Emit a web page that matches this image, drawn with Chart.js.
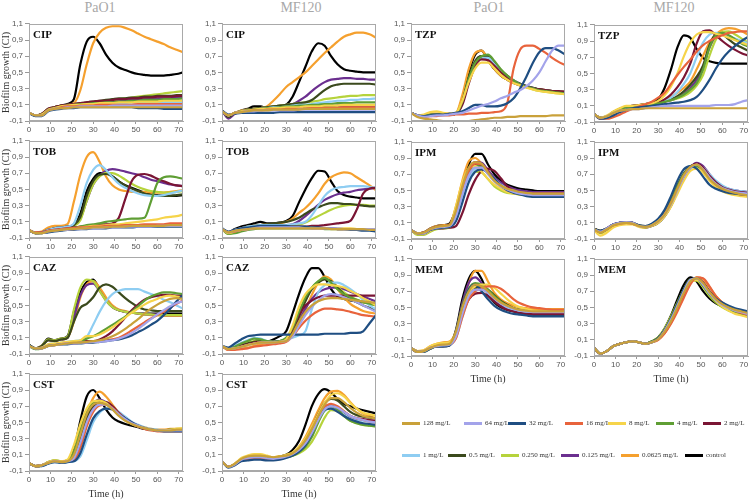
<!DOCTYPE html>
<html>
<head>
<meta charset="utf-8">
<script src="https://cdn.jsdelivr.net/npm/chart.js@4.4.0/dist/chart.umd.min.js"></script>
<style>
  body { margin: 0; background: #fff; width: 750px; height: 501px; position: relative; overflow: hidden; font-family: "Liberation Serif", serif; }
  canvas { position: absolute; }
  .col-title { position: absolute; top: 0; font-size: 14px; line-height: 15px; color: #a8a8a8; transform: translateX(-50%); white-space: nowrap; }
  .legend-item { position: absolute; display: flex; align-items: center; gap: 3px; font-size: 7px; line-height: 8px; color: #333; white-space: nowrap; }
  .legend-line { width: 18px; height: 3px; }
</style>
</head>
<body>
<div class="col-title" style="left:100px">PaO1</div>
<div class="col-title" style="left:301px">MF120</div>
<div class="col-title" style="left:489px">PaO1</div>
<div class="col-title" style="left:674px">MF120</div>

<script>
// sampling times (h)
const hours = [0,3,6,9,12,15,18,21,24,27,30,33,36,39,42,45,48,51,54,57,60,63,66,69,72];
const concentrations = ['128 mg/L','64 mg/L','32 mg/L','16 mg/L','8 mg/L','4 mg/L','2 mg/L','1 mg/L','0.5 mg/L','0.250 mg/L','0.125 mg/L','0.0625 mg/L','control'];
const lineColors = ['#c9a13a','#a3a3ea','#1f4e82','#e8633c','#f6d44a','#5f9e34','#7a1534','#8ecdf2','#3b4a1d','#b6d33c','#6b2f8f','#f5a02e','#000000'];
const yTicks = [-0.1,0.1,0.3,0.5,0.7,0.9,1.1];
const xTicks = [0,10,20,30,40,50,60,70];

// each panel: one row per concentration, same order as the legend
const pao1CIP = [
  [0,-0.03,-0.03,0.03,0.05,0.06,0.06,0.07,0.07,0.07,0.07,0.07,0.07,0.07,0.07,0.07,0.07,0.07,0.07,0.07,0.07,0.07,0.07,0.07,0.07],
  [0,-0.03,-0.03,0.03,0.05,0.06,0.07,0.07,0.08,0.08,0.08,0.08,0.08,0.09,0.09,0.09,0.09,0.09,0.09,0.09,0.09,0.09,0.09,0.09,0.09],
  [0,-0.04,-0.04,0.02,0.04,0.05,0.06,0.06,0.07,0.07,0.07,0.07,0.07,0.07,0.07,0.07,0.07,0.06,0.06,0.06,0.06,0.05,0.05,0.05,0.05],
  [0,-0.03,-0.03,0.03,0.05,0.07,0.08,0.08,0.09,0.09,0.09,0.1,0.1,0.1,0.1,0.1,0.1,0.11,0.11,0.11,0.11,0.11,0.11,0.11,0.11],
  [0,-0.03,-0.02,0.04,0.06,0.08,0.09,0.1,0.1,0.11,0.11,0.12,0.12,0.12,0.13,0.13,0.13,0.14,0.14,0.14,0.14,0.15,0.15,0.15,0.15],
  [0,-0.03,-0.02,0.04,0.06,0.08,0.09,0.1,0.11,0.11,0.12,0.12,0.13,0.13,0.14,0.14,0.15,0.15,0.16,0.16,0.16,0.17,0.17,0.17,0.18],
  [0,-0.03,-0.01,0.05,0.07,0.09,0.1,0.11,0.12,0.13,0.14,0.15,0.15,0.16,0.17,0.17,0.18,0.18,0.19,0.19,0.2,0.2,0.2,0.21,0.21],
  [0,-0.03,-0.02,0.04,0.06,0.08,0.09,0.1,0.1,0.11,0.11,0.11,0.12,0.12,0.12,0.12,0.13,0.13,0.13,0.13,0.13,0.13,0.13,0.13,0.13],
  [0,-0.03,-0.01,0.05,0.07,0.09,0.1,0.11,0.12,0.13,0.14,0.15,0.16,0.17,0.18,0.18,0.19,0.19,0.2,0.2,0.21,0.21,0.21,0.22,0.22],
  [0,-0.03,-0.02,0.04,0.06,0.08,0.09,0.1,0.11,0.12,0.13,0.14,0.15,0.16,0.17,0.18,0.19,0.2,0.21,0.22,0.23,0.24,0.25,0.26,0.27],
  [0,-0.03,-0.02,0.04,0.06,0.08,0.09,0.1,0.11,0.12,0.12,0.13,0.14,0.14,0.15,0.15,0.16,0.16,0.17,0.17,0.18,0.18,0.18,0.19,0.19],
  [0,-0.03,-0.02,0.04,0.07,0.09,0.1,0.12,0.28,0.6,0.86,0.99,1.05,1.07,1.07,1.05,1.02,0.98,0.94,0.91,0.88,0.85,0.81,0.78,0.75],
  [0,-0.03,-0.02,0.04,0.07,0.09,0.11,0.17,0.6,0.88,0.94,0.86,0.72,0.62,0.56,0.53,0.5,0.48,0.47,0.46,0.46,0.46,0.47,0.48,0.5]
];
const mf120CIP = [
  [0.02,-0.03,0,0.01,0.02,0.03,0.03,0.03,0.04,0.04,0.04,0.04,0.04,0.05,0.05,0.05,0.05,0.05,0.05,0.05,0.05,0.05,0.05,0.05,0.05],
  [0.02,-0.03,0,0.01,0.02,0.02,0.03,0.03,0.03,0.03,0.03,0.03,0.04,0.04,0.04,0.04,0.04,0.04,0.04,0.04,0.04,0.04,0.04,0.04,0.04],
  [0.03,-0.02,-0.01,0,0,0,0,0,0,0.01,0.01,0.01,0.01,0.01,0.01,0.01,0.01,0.01,0.01,0.01,0.01,0.01,0.01,0.01,0.01],
  [0.02,-0.03,0,0.01,0.02,0.03,0.03,0.04,0.04,0.04,0.05,0.05,0.05,0.05,0.06,0.06,0.06,0.06,0.06,0.07,0.07,0.07,0.07,0.07,0.07],
  [0.02,-0.03,0,0.02,0.03,0.04,0.05,0.05,0.06,0.06,0.07,0.07,0.07,0.08,0.08,0.08,0.09,0.09,0.09,0.1,0.1,0.1,0.1,0.1,0.1],
  [0.02,-0.03,0,0.02,0.03,0.04,0.05,0.06,0.06,0.07,0.08,0.08,0.09,0.09,0.1,0.1,0.11,0.11,0.12,0.12,0.12,0.13,0.13,0.13,0.13],
  [0.02,-0.03,0,0.02,0.03,0.04,0.05,0.05,0.06,0.06,0.07,0.07,0.07,0.08,0.08,0.08,0.08,0.08,0.09,0.09,0.09,0.09,0.09,0.09,0.09],
  [0.02,-0.03,0,0.02,0.03,0.04,0.05,0.06,0.07,0.07,0.08,0.09,0.1,0.1,0.11,0.12,0.13,0.14,0.15,0.15,0.16,0.16,0.17,0.17,0.18],
  [0.03,-0.05,0,0.02,0.04,0.05,0.06,0.07,0.08,0.09,0.1,0.11,0.12,0.13,0.16,0.22,0.28,0.33,0.35,0.36,0.36,0.36,0.36,0.36,0.35],
  [0.02,-0.03,0,0.02,0.04,0.05,0.06,0.07,0.08,0.09,0.1,0.11,0.12,0.13,0.14,0.15,0.17,0.18,0.19,0.2,0.21,0.21,0.22,0.22,0.22],
  [0.03,-0.07,-0.01,0.02,0.04,0.05,0.06,0.07,0.08,0.09,0.1,0.11,0.15,0.2,0.27,0.33,0.38,0.41,0.42,0.43,0.43,0.42,0.42,0.41,0.41],
  [0.02,-0.03,0,0.03,0.04,0.05,0.06,0.08,0.15,0.23,0.32,0.38,0.44,0.5,0.58,0.66,0.74,0.81,0.88,0.94,0.97,0.99,0.99,0.97,0.93],
  [0.02,-0.04,0,0.03,0.05,0.08,0.08,0.06,0.07,0.08,0.1,0.2,0.38,0.57,0.76,0.86,0.83,0.7,0.6,0.54,0.52,0.51,0.5,0.5,0.5]
];
const pao1TOB = [
  [0,-0.04,-0.04,-0.02,-0.01,0,0.01,0.01,0.02,0.02,0.03,0.03,0.03,0.04,0.04,0.04,0.05,0.05,0.05,0.05,0.05,0.05,0.06,0.06,0.06],
  [0,-0.04,-0.04,-0.02,-0.01,0,0,0.01,0.01,0.02,0.02,0.02,0.03,0.03,0.03,0.04,0.04,0.04,0.04,0.04,0.05,0.05,0.05,0.05,0.05],
  [0,-0.04,-0.04,-0.03,-0.02,-0.01,0,0,0.01,0.01,0.02,0.02,0.02,0.03,0.03,0.03,0.03,0.04,0.04,0.04,0.04,0.04,0.04,0.04,0.04],
  [0,-0.03,-0.03,-0.01,0,0.01,0.02,0.02,0.03,0.03,0.04,0.04,0.05,0.05,0.05,0.06,0.06,0.06,0.07,0.07,0.07,0.07,0.08,0.08,0.08],
  [0,-0.04,-0.04,-0.02,-0.01,0,0.01,0.02,0.03,0.04,0.05,0.05,0.06,0.07,0.07,0.08,0.09,0.1,0.11,0.12,0.13,0.15,0.16,0.17,0.19],
  [0,-0.04,-0.04,-0.02,-0.01,0,0.01,0.02,0.04,0.06,0.07,0.08,0.1,0.11,0.12,0.13,0.14,0.14,0.15,0.35,0.58,0.65,0.66,0.65,0.63],
  [0,-0.04,-0.03,-0.01,0,0.01,0.02,0.03,0.04,0.05,0.06,0.07,0.07,0.08,0.15,0.38,0.6,0.68,0.69,0.67,0.63,0.6,0.57,0.55,0.54],
  [0,-0.04,-0.03,0,0.02,0.03,0.04,0.08,0.3,0.58,0.74,0.8,0.74,0.65,0.57,0.52,0.48,0.45,0.43,0.42,0.42,0.43,0.45,0.47,0.49],
  [0,-0.04,-0.03,0,0.02,0.03,0.04,0.06,0.16,0.42,0.6,0.68,0.69,0.66,0.6,0.55,0.51,0.48,0.45,0.43,0.42,0.42,0.42,0.43,0.44],
  [0,-0.04,-0.04,-0.01,0.01,0.02,0.03,0.05,0.12,0.36,0.56,0.66,0.7,0.7,0.67,0.62,0.57,0.53,0.5,0.48,0.47,0.46,0.46,0.47,0.48],
  [0,-0.04,-0.03,0,0.02,0.03,0.04,0.06,0.14,0.36,0.56,0.67,0.73,0.75,0.74,0.72,0.7,0.68,0.65,0.62,0.6,0.58,0.56,0.55,0.54],
  [0,-0.03,-0.02,0.03,0.05,0.05,0.07,0.35,0.68,0.9,0.96,0.84,0.66,0.55,0.5,0.48,0.47,0.47,0.47,0.46,0.46,0.46,0.47,0.48,0.49],
  [0,-0.04,-0.03,0,0.02,0.03,0.04,0.06,0.2,0.48,0.63,0.7,0.7,0.66,0.6,0.55,0.52,0.49,0.46,0.44,0.43,0.42,0.42,0.42,0.43]
];
const mf120TOB = [
  [0.01,-0.03,-0.01,0,0.01,0.02,0.02,0.02,0.02,0.02,0.02,0.02,0.02,0.02,0.02,0.02,0.02,0.01,0.01,0.01,0.01,0.01,0.01,0,0],
  [0.01,-0.03,-0.01,0,0.01,0.02,0.03,0.03,0.03,0.03,0.03,0.03,0.03,0.02,0.02,0.02,0.02,0.02,0.02,0.01,0.01,0.01,0.01,0.01,0.01],
  [0.02,-0.02,0,0.02,0.03,0.04,0.05,0.05,0.05,0.05,0.05,0.04,0.04,0.04,0.03,0.03,0.02,0.02,0.01,0.01,0,0,-0.01,-0.01,-0.02],
  [0.01,-0.03,-0.02,0,0.01,0.02,0.03,0.03,0.03,0.03,0.03,0.03,0.03,0.03,0.02,0.02,0.02,0.02,0.01,0.01,0.01,0.01,0,0,0],
  [0.01,-0.04,-0.02,0,0.01,0.02,0.03,0.03,0.03,0.03,0.03,0.03,0.03,0.03,0.03,0.02,0.02,0.02,0.02,0.02,0.02,0.01,0.01,0.01,0.01],
  [0.01,-0.05,-0.04,-0.02,0,0.01,0.02,0.02,0.02,0.02,0.02,0.02,0.02,0.02,0.02,0.02,0.01,0.01,0.01,0.01,0.01,0,0,0,0],
  [0.01,-0.03,-0.01,0.01,0.02,0.03,0.04,0.04,0.04,0.04,0.04,0.04,0.04,0.04,0.05,0.05,0.06,0.07,0.08,0.09,0.11,0.25,0.45,0.51,0.52],
  [0.01,-0.03,0,0.02,0.04,0.05,0.06,0.06,0.06,0.06,0.06,0.07,0.08,0.1,0.18,0.3,0.42,0.49,0.52,0.53,0.54,0.54,0.54,0.53,0.52],
  [0.01,-0.03,0,0.02,0.04,0.05,0.06,0.07,0.08,0.09,0.1,0.12,0.15,0.2,0.25,0.28,0.31,0.33,0.33,0.32,0.32,0.31,0.3,0.29,0.29],
  [0.01,-0.05,-0.03,-0.01,0.01,0.02,0.03,0.03,0.04,0.04,0.05,0.05,0.06,0.09,0.13,0.17,0.21,0.25,0.28,0.3,0.31,0.31,0.31,0.3,0.3],
  [0.01,-0.03,0,0.02,0.03,0.04,0.05,0.05,0.05,0.06,0.06,0.07,0.11,0.17,0.24,0.31,0.37,0.41,0.44,0.46,0.47,0.49,0.5,0.51,0.52],
  [0.01,-0.04,-0.01,0.02,0.04,0.05,0.06,0.07,0.07,0.08,0.1,0.14,0.21,0.27,0.35,0.45,0.57,0.65,0.69,0.71,0.7,0.65,0.6,0.55,0.49],
  [0.01,-0.03,0.01,0.04,0.06,0.08,0.1,0.08,0.08,0.09,0.11,0.17,0.34,0.5,0.64,0.73,0.72,0.6,0.48,0.43,0.41,0.4,0.39,0.39,0.39]
];
const pao1CAZ = [
  [0,-0.03,-0.03,0,0.01,0.02,0.03,0.04,0.04,0.05,0.06,0.07,0.09,0.12,0.16,0.21,0.27,0.33,0.4,0.46,0.51,0.55,0.58,0.59,0.58],
  [0,-0.03,-0.03,0,0.01,0.02,0.03,0.03,0.04,0.04,0.05,0.05,0.06,0.07,0.09,0.12,0.16,0.21,0.27,0.33,0.39,0.44,0.49,0.53,0.55],
  [0.01,-0.03,-0.03,0,0.01,0.02,0.02,0.03,0.03,0.04,0.04,0.05,0.06,0.07,0.08,0.1,0.13,0.17,0.21,0.26,0.31,0.38,0.46,0.55,0.63],
  [0,-0.03,-0.03,0,0.01,0.02,0.03,0.03,0.04,0.04,0.05,0.06,0.07,0.08,0.1,0.14,0.19,0.24,0.29,0.34,0.38,0.42,0.47,0.52,0.56],
  [0,-0.03,-0.02,0.02,0.03,0.04,0.05,0.06,0.07,0.12,0.12,0.14,0.18,0.23,0.29,0.35,0.41,0.46,0.51,0.55,0.58,0.61,0.62,0.61,0.6],
  [0,-0.04,-0.03,0,0.02,0.03,0.04,0.05,0.06,0.09,0.12,0.16,0.21,0.26,0.31,0.36,0.42,0.49,0.56,0.61,0.64,0.66,0.66,0.65,0.64],
  [0,-0.03,-0.02,0.01,0.02,0.03,0.04,0.05,0.05,0.06,0.06,0.08,0.12,0.18,0.26,0.35,0.44,0.51,0.57,0.6,0.62,0.63,0.63,0.62,0.62],
  [0,-0.04,-0.02,0.02,0.03,0.04,0.05,0.06,0.07,0.11,0.26,0.42,0.55,0.64,0.68,0.7,0.7,0.7,0.67,0.64,0.61,0.57,0.54,0.5,0.46],
  [0.01,-0.03,0,0.07,0.06,0.08,0.1,0.3,0.47,0.52,0.6,0.72,0.76,0.73,0.66,0.59,0.53,0.48,0.45,0.44,0.43,0.43,0.43,0.43,0.43],
  [0.01,-0.03,0,0.08,0.07,0.09,0.11,0.45,0.72,0.82,0.8,0.68,0.56,0.48,0.44,0.42,0.41,0.4,0.39,0.39,0.38,0.38,0.38,0.38,0.38],
  [0.01,-0.03,0,0.07,0.06,0.08,0.1,0.35,0.62,0.75,0.77,0.68,0.56,0.48,0.44,0.42,0.41,0.4,0.39,0.39,0.39,0.38,0.38,0.38,0.38],
  [0.01,-0.03,0,0.07,0.06,0.08,0.1,0.3,0.6,0.76,0.8,0.72,0.6,0.5,0.45,0.43,0.41,0.4,0.39,0.38,0.38,0.37,0.37,0.37,0.37],
  [0.01,-0.03,0,0.09,0.07,0.09,0.12,0.42,0.66,0.79,0.82,0.7,0.57,0.48,0.44,0.42,0.41,0.4,0.4,0.4,0.4,0.4,0.4,0.4,0.4]
];
const mf120CAZ = [
  [0,-0.04,-0.03,-0.01,0.01,0.03,0.04,0.04,0.04,0.05,0.06,0.15,0.3,0.42,0.5,0.55,0.58,0.59,0.59,0.58,0.57,0.56,0.55,0.54,0.53],
  [0,-0.04,-0.03,-0.01,0.01,0.03,0.04,0.04,0.04,0.05,0.06,0.12,0.25,0.38,0.48,0.56,0.62,0.64,0.63,0.6,0.57,0.54,0.5,0.46,0.42],
  [0,-0.02,0.03,0.08,0.12,0.13,0.14,0.14,0.14,0.14,0.14,0.14,0.14,0.14,0.14,0.14,0.15,0.15,0.15,0.15,0.16,0.16,0.18,0.28,0.38],
  [0,-0.05,-0.05,-0.04,-0.03,-0.01,0,0.01,0.02,0.03,0.05,0.12,0.22,0.31,0.38,0.43,0.46,0.46,0.45,0.44,0.42,0.4,0.38,0.37,0.36],
  [0,-0.04,-0.03,-0.01,0.01,0.03,0.04,0.04,0.04,0.05,0.08,0.25,0.48,0.64,0.72,0.76,0.76,0.75,0.74,0.72,0.68,0.64,0.59,0.55,0.5],
  [0,-0.04,-0.01,0.03,0.06,0.09,0.08,0.06,0.05,0.06,0.1,0.22,0.42,0.6,0.72,0.8,0.84,0.78,0.7,0.64,0.6,0.57,0.54,0.52,0.5],
  [0,-0.04,-0.02,0,0.02,0.04,0.05,0.05,0.05,0.05,0.06,0.2,0.38,0.5,0.56,0.6,0.62,0.62,0.62,0.62,0.62,0.62,0.62,0.62,0.62],
  [0,-0.03,0,0.04,0.07,0.1,0.09,0.06,0.05,0.06,0.08,0.1,0.13,0.18,0.45,0.66,0.75,0.78,0.78,0.75,0.7,0.64,0.57,0.5,0.45],
  [0,-0.04,-0.02,0.01,0.03,0.05,0.06,0.05,0.05,0.06,0.08,0.18,0.36,0.55,0.7,0.78,0.82,0.8,0.72,0.64,0.58,0.54,0.5,0.47,0.45],
  [0,-0.04,-0.02,0.01,0.04,0.06,0.07,0.06,0.05,0.06,0.09,0.2,0.4,0.58,0.72,0.79,0.83,0.8,0.73,0.66,0.61,0.57,0.54,0.52,0.5],
  [0,-0.04,-0.02,0,0.02,0.04,0.05,0.05,0.05,0.06,0.08,0.15,0.3,0.46,0.58,0.66,0.7,0.72,0.72,0.7,0.67,0.64,0.61,0.58,0.55],
  [0,-0.05,-0.04,-0.03,-0.02,0,0.02,0.03,0.04,0.05,0.07,0.13,0.28,0.45,0.63,0.78,0.86,0.82,0.7,0.6,0.52,0.47,0.43,0.41,0.4],
  [0,-0.03,-0.02,0,0.02,0.03,0.04,0.05,0.08,0.12,0.18,0.4,0.64,0.84,0.96,0.96,0.85,0.7,0.61,0.58,0.56,0.55,0.54,0.53,0.52]
];
const pao1CST = [
  [0,-0.04,-0.03,0,0.02,0.01,0.02,0.1,0.35,0.6,0.72,0.74,0.72,0.66,0.58,0.52,0.48,0.45,0.43,0.41,0.4,0.4,0.4,0.41,0.41],
  [0,-0.04,-0.03,0,0.02,0.01,0.02,0.06,0.25,0.5,0.66,0.72,0.72,0.67,0.6,0.54,0.49,0.46,0.43,0.41,0.4,0.4,0.4,0.4,0.4],
  [0,-0.04,-0.04,-0.01,0.01,0,0.01,0.02,0.12,0.35,0.55,0.64,0.67,0.66,0.6,0.55,0.5,0.46,0.43,0.41,0.4,0.39,0.39,0.39,0.39],
  [0,-0.04,-0.03,0,0.02,0.01,0.02,0.04,0.18,0.45,0.63,0.71,0.72,0.68,0.61,0.54,0.49,0.45,0.42,0.4,0.39,0.39,0.39,0.39,0.39],
  [0,-0.04,-0.03,0.01,0.03,0.02,0.04,0.22,0.48,0.67,0.76,0.77,0.74,0.67,0.59,0.53,0.48,0.45,0.43,0.41,0.4,0.4,0.41,0.42,0.43],
  [0,-0.04,-0.03,0.01,0.03,0.02,0.03,0.14,0.4,0.63,0.75,0.77,0.74,0.67,0.6,0.54,0.49,0.46,0.43,0.41,0.4,0.4,0.4,0.41,0.41],
  [0,-0.04,-0.03,0,0.02,0.01,0.02,0.05,0.22,0.48,0.66,0.74,0.75,0.7,0.62,0.55,0.5,0.46,0.43,0.41,0.4,0.4,0.4,0.4,0.4],
  [0,-0.04,-0.04,-0.01,0.01,0,0.01,0.02,0.08,0.28,0.5,0.62,0.67,0.67,0.63,0.57,0.51,0.47,0.44,0.42,0.41,0.4,0.4,0.4,0.41],
  [0,-0.04,-0.03,0,0.02,0.01,0.02,0.08,0.3,0.56,0.7,0.75,0.74,0.69,0.62,0.55,0.5,0.46,0.43,0.41,0.4,0.4,0.41,0.41,0.42],
  [0,-0.04,-0.03,0.01,0.03,0.02,0.03,0.12,0.38,0.6,0.72,0.75,0.73,0.67,0.6,0.54,0.49,0.46,0.43,0.41,0.4,0.4,0.41,0.42,0.42],
  [0,-0.04,-0.03,0,0.02,0.01,0.02,0.06,0.25,0.55,0.72,0.78,0.75,0.68,0.6,0.54,0.49,0.45,0.43,0.41,0.4,0.4,0.4,0.4,0.4],
  [0,-0.04,-0.03,0,0.02,0.01,0.02,0.08,0.3,0.6,0.8,0.88,0.82,0.72,0.62,0.55,0.5,0.46,0.44,0.42,0.41,0.41,0.42,0.42,0.42],
  [0,-0.04,-0.03,0,0.02,0,0.02,0.16,0.52,0.82,0.9,0.8,0.66,0.56,0.51,0.48,0.46,0.44,0.42,0.41,0.4,0.4,0.4,0.41,0.41]
];
const mf120CST = [
  [0.02,-0.05,-0.01,0.05,0.08,0.09,0.09,0.08,0.07,0.08,0.09,0.12,0.18,0.28,0.42,0.58,0.72,0.8,0.8,0.75,0.68,0.62,0.58,0.56,0.55],
  [0.02,-0.05,-0.02,0.04,0.06,0.07,0.07,0.06,0.05,0.06,0.08,0.11,0.16,0.24,0.37,0.53,0.66,0.7,0.68,0.63,0.58,0.55,0.53,0.51,0.5],
  [0.02,-0.06,-0.03,0.02,0.03,0.04,0.04,0.03,0.03,0.04,0.06,0.09,0.14,0.22,0.36,0.55,0.66,0.67,0.63,0.58,0.54,0.51,0.49,0.48,0.47],
  [0.02,-0.05,-0.02,0.03,0.05,0.06,0.06,0.05,0.04,0.05,0.07,0.1,0.15,0.24,0.38,0.56,0.69,0.73,0.7,0.64,0.58,0.55,0.53,0.51,0.5],
  [0.02,-0.05,-0.01,0.06,0.09,0.11,0.11,0.09,0.07,0.08,0.1,0.13,0.2,0.3,0.44,0.6,0.74,0.84,0.86,0.82,0.74,0.67,0.62,0.6,0.58],
  [0.02,-0.05,-0.02,0.04,0.06,0.07,0.07,0.06,0.05,0.06,0.07,0.09,0.13,0.2,0.32,0.5,0.65,0.7,0.66,0.58,0.52,0.49,0.47,0.46,0.45],
  [0.02,-0.05,-0.02,0.04,0.06,0.07,0.07,0.06,0.05,0.06,0.08,0.11,0.16,0.26,0.42,0.6,0.7,0.71,0.68,0.63,0.58,0.55,0.54,0.53,0.52],
  [0.02,-0.05,-0.02,0.04,0.06,0.07,0.07,0.06,0.05,0.06,0.07,0.1,0.14,0.22,0.35,0.52,0.64,0.68,0.66,0.6,0.55,0.53,0.52,0.51,0.5],
  [0.02,-0.05,-0.02,0.04,0.06,0.07,0.07,0.06,0.05,0.06,0.08,0.11,0.17,0.27,0.42,0.6,0.74,0.79,0.77,0.7,0.63,0.59,0.57,0.56,0.55],
  [0.02,-0.05,-0.02,0.05,0.07,0.08,0.08,0.07,0.06,0.06,0.07,0.09,0.12,0.17,0.26,0.4,0.56,0.65,0.64,0.58,0.52,0.49,0.47,0.46,0.45],
  [0.02,-0.05,-0.02,0.04,0.06,0.07,0.07,0.06,0.05,0.06,0.08,0.11,0.16,0.25,0.4,0.58,0.69,0.7,0.66,0.6,0.56,0.54,0.53,0.52,0.52],
  [0.02,-0.05,-0.01,0.05,0.08,0.09,0.09,0.08,0.07,0.08,0.09,0.12,0.2,0.32,0.48,0.65,0.8,0.88,0.89,0.84,0.75,0.67,0.61,0.58,0.55],
  [0.02,-0.05,-0.02,0.04,0.06,0.07,0.07,0.06,0.06,0.08,0.1,0.16,0.27,0.47,0.7,0.85,0.91,0.87,0.79,0.73,0.7,0.67,0.65,0.63,0.61]
];
const pao1TZP = [
  [0,-0.05,-0.07,-0.08,-0.09,-0.1,-0.1,-0.11,-0.11,-0.1,-0.09,-0.08,-0.07,-0.06,-0.06,-0.05,-0.05,-0.04,-0.04,-0.04,-0.04,-0.04,-0.03,-0.03,-0.03],
  [0,-0.03,-0.05,-0.04,-0.03,-0.03,-0.02,-0.01,0,0.03,0.06,0.09,0.11,0.14,0.18,0.21,0.25,0.28,0.33,0.4,0.5,0.64,0.77,0.83,0.83],
  [0,-0.03,-0.04,-0.03,-0.02,-0.02,-0.01,0,0.02,0.06,0.1,0.1,0.08,0.08,0.09,0.12,0.18,0.3,0.45,0.62,0.75,0.8,0.8,0.77,0.72],
  [0,-0.04,-0.05,-0.04,-0.04,-0.03,-0.03,-0.02,-0.02,-0.01,-0.01,0,0,0.01,0.02,0.12,0.55,0.78,0.83,0.83,0.79,0.74,0.68,0.63,0.59],
  [0,-0.03,-0.02,0.01,0.02,0,-0.01,0,0.15,0.38,0.55,0.62,0.62,0.55,0.47,0.41,0.37,0.34,0.31,0.29,0.27,0.26,0.25,0.24,0.23],
  [0,-0.03,-0.04,-0.02,-0.02,-0.02,-0.02,-0.01,0.14,0.42,0.62,0.7,0.72,0.64,0.54,0.46,0.4,0.35,0.32,0.3,0.28,0.27,0.26,0.25,0.24],
  [0,-0.03,-0.04,-0.02,-0.02,-0.02,-0.02,-0.01,0.1,0.36,0.58,0.66,0.65,0.58,0.5,0.44,0.39,0.35,0.32,0.3,0.29,0.28,0.27,0.27,0.26],
  [0,-0.03,-0.04,-0.02,-0.02,-0.02,-0.02,-0.01,0.12,0.4,0.6,0.68,0.68,0.6,0.52,0.45,0.4,0.35,0.32,0.3,0.28,0.27,0.26,0.25,0.25],
  [0,-0.03,-0.04,-0.02,-0.02,-0.02,-0.02,-0.01,0.14,0.44,0.64,0.7,0.7,0.62,0.53,0.46,0.4,0.36,0.33,0.31,0.29,0.28,0.27,0.26,0.26],
  [0,-0.03,-0.04,-0.02,-0.02,-0.02,-0.02,-0.01,0.13,0.42,0.62,0.69,0.69,0.61,0.52,0.45,0.39,0.35,0.32,0.29,0.27,0.26,0.25,0.24,0.23],
  [0,-0.03,-0.04,-0.02,-0.02,-0.02,-0.02,-0.01,0.12,0.4,0.62,0.7,0.68,0.6,0.51,0.45,0.4,0.36,0.33,0.31,0.29,0.28,0.27,0.26,0.25],
  [0,-0.03,-0.03,-0.01,-0.01,-0.01,-0.01,0,0.22,0.54,0.74,0.77,0.66,0.54,0.46,0.41,0.37,0.34,0.32,0.3,0.29,0.28,0.27,0.26,0.26],
  [0,-0.03,-0.04,-0.02,-0.02,-0.02,-0.02,-0.01,0.18,0.5,0.72,0.77,0.65,0.54,0.46,0.41,0.37,0.34,0.32,0.3,0.29,0.28,0.27,0.26,0.26]
];
const mf120TZP = [
  [0,-0.05,-0.03,0.01,0.04,0.05,0.06,0.06,0.07,0.07,0.07,0.07,0.07,0.07,0.07,0.07,0.07,0.07,0.07,0.07,0.07,0.07,0.07,0.07,0.07],
  [0,-0.05,-0.03,0.01,0.04,0.05,0.06,0.06,0.07,0.08,0.09,0.1,0.1,0.1,0.1,0.1,0.1,0.1,0.1,0.11,0.11,0.11,0.12,0.15,0.17],
  [0,-0.06,-0.05,-0.02,0.02,0.05,0.07,0.08,0.09,0.1,0.11,0.12,0.13,0.14,0.15,0.17,0.21,0.3,0.42,0.56,0.68,0.77,0.84,0.9,0.95],
  [0,-0.06,-0.06,-0.04,-0.01,0.03,0.06,0.09,0.12,0.15,0.2,0.26,0.37,0.48,0.58,0.67,0.77,0.85,0.9,0.94,0.97,1,1.01,1.02,1.02],
  [0,-0.05,-0.02,0.03,0.07,0.1,0.1,0.11,0.12,0.13,0.16,0.23,0.34,0.5,0.71,0.88,0.98,1.01,1.01,0.99,0.97,0.94,0.91,0.88,0.85],
  [0,-0.05,-0.03,0.02,0.06,0.08,0.09,0.1,0.11,0.12,0.13,0.15,0.17,0.2,0.24,0.3,0.38,0.55,0.82,0.97,1,0.97,0.92,0.87,0.83],
  [0,-0.05,-0.03,0.02,0.06,0.09,0.1,0.11,0.12,0.13,0.14,0.18,0.24,0.33,0.45,0.62,0.87,1.02,1.03,0.97,0.9,0.84,0.79,0.75,0.72],
  [0,-0.05,-0.03,0.02,0.06,0.08,0.09,0.1,0.11,0.12,0.14,0.16,0.2,0.27,0.37,0.5,0.7,0.88,0.98,1,0.99,0.96,0.93,0.9,0.87],
  [0,-0.05,-0.03,0.02,0.06,0.08,0.09,0.1,0.11,0.12,0.13,0.15,0.18,0.22,0.28,0.36,0.46,0.6,0.85,0.98,0.98,0.92,0.86,0.82,0.78],
  [0,-0.05,-0.03,0.02,0.06,0.08,0.09,0.1,0.11,0.12,0.13,0.15,0.17,0.19,0.22,0.27,0.35,0.48,0.72,0.92,1.01,1.02,0.98,0.93,0.88],
  [0,-0.05,-0.03,0.02,0.06,0.08,0.09,0.1,0.11,0.12,0.13,0.15,0.17,0.2,0.25,0.32,0.42,0.58,0.82,0.96,0.99,0.96,0.92,0.88,0.84],
  [0,-0.05,-0.04,0,0.04,0.07,0.09,0.1,0.11,0.12,0.14,0.17,0.21,0.26,0.32,0.4,0.55,0.72,0.88,0.98,1.04,1.06,1.05,1.02,0.98],
  [0,-0.05,-0.03,0.02,0.06,0.09,0.1,0.11,0.12,0.14,0.18,0.32,0.55,0.82,0.97,0.94,0.8,0.69,0.65,0.63,0.62,0.62,0.62,0.62,0.62]
];
const pao1IPM = [
  [0.01,-0.03,-0.02,0.02,0.05,0.06,0.07,0.25,0.55,0.78,0.85,0.83,0.72,0.62,0.56,0.52,0.5,0.48,0.47,0.46,0.46,0.46,0.46,0.46,0.46],
  [0.01,-0.03,-0.03,0.02,0.04,0.05,0.06,0.18,0.45,0.68,0.78,0.78,0.7,0.61,0.55,0.51,0.48,0.46,0.45,0.44,0.44,0.44,0.44,0.44,0.44],
  [0.01,-0.03,-0.03,0.01,0.03,0.04,0.05,0.12,0.35,0.6,0.73,0.76,0.72,0.64,0.56,0.5,0.47,0.45,0.43,0.42,0.42,0.42,0.42,0.42,0.42],
  [0.01,-0.03,-0.02,0.02,0.05,0.06,0.07,0.22,0.5,0.74,0.83,0.82,0.73,0.63,0.56,0.52,0.49,0.47,0.46,0.46,0.46,0.46,0.46,0.46,0.46],
  [0.01,-0.04,-0.04,0,0.03,0.04,0.05,0.3,0.6,0.77,0.8,0.73,0.64,0.57,0.52,0.48,0.46,0.45,0.44,0.43,0.43,0.43,0.43,0.43,0.43],
  [0.01,-0.04,-0.04,0,0.03,0.04,0.05,0.22,0.5,0.72,0.8,0.79,0.71,0.62,0.55,0.5,0.47,0.45,0.44,0.43,0.43,0.43,0.43,0.43,0.43],
  [0.01,-0.03,-0.03,0.01,0.03,0.03,0.04,0.06,0.22,0.45,0.63,0.74,0.77,0.74,0.65,0.55,0.49,0.46,0.44,0.43,0.42,0.42,0.42,0.42,0.42],
  [0.01,-0.03,-0.03,0.01,0.03,0.04,0.05,0.14,0.4,0.64,0.76,0.77,0.72,0.64,0.57,0.52,0.48,0.46,0.44,0.43,0.43,0.43,0.43,0.43,0.43],
  [0.01,-0.03,-0.02,0.02,0.05,0.06,0.07,0.24,0.52,0.75,0.82,0.8,0.71,0.62,0.56,0.52,0.49,0.47,0.46,0.45,0.45,0.45,0.45,0.45,0.45],
  [0.01,-0.05,-0.05,-0.01,0.02,0.03,0.04,0.18,0.44,0.66,0.73,0.72,0.64,0.55,0.5,0.47,0.46,0.45,0.45,0.45,0.45,0.45,0.45,0.45,0.45],
  [0.01,-0.03,-0.02,0.02,0.05,0.06,0.07,0.2,0.5,0.76,0.85,0.84,0.75,0.66,0.6,0.55,0.52,0.5,0.49,0.48,0.48,0.48,0.48,0.48,0.48],
  [0.01,-0.03,-0.02,0.03,0.06,0.07,0.08,0.3,0.62,0.86,0.9,0.83,0.72,0.63,0.57,0.53,0.51,0.49,0.48,0.47,0.47,0.47,0.47,0.47,0.47],
  [0.01,-0.03,-0.02,0.03,0.06,0.07,0.09,0.27,0.55,0.82,0.95,0.95,0.82,0.7,0.62,0.57,0.54,0.52,0.51,0.5,0.49,0.49,0.49,0.49,0.49]
];
const mf120IPM = [
  [0.02,-0.02,0.02,0.07,0.09,0.1,0.09,0.06,0.05,0.07,0.12,0.2,0.34,0.52,0.69,0.79,0.82,0.75,0.64,0.57,0.52,0.49,0.47,0.45,0.44],
  [0.02,-0.01,0.03,0.08,0.1,0.11,0.1,0.06,0.05,0.07,0.12,0.2,0.33,0.5,0.67,0.78,0.82,0.76,0.66,0.58,0.53,0.5,0.48,0.47,0.46],
  [0.02,0,0.03,0.08,0.1,0.11,0.1,0.07,0.06,0.09,0.15,0.26,0.43,0.62,0.76,0.8,0.77,0.67,0.57,0.52,0.49,0.47,0.46,0.45,0.45],
  [0.02,-0.02,0.02,0.07,0.09,0.1,0.09,0.06,0.05,0.07,0.12,0.21,0.35,0.52,0.68,0.79,0.82,0.76,0.65,0.57,0.52,0.49,0.47,0.45,0.44],
  [0.01,-0.06,-0.02,0.04,0.07,0.08,0.08,0.05,0.04,0.06,0.1,0.18,0.3,0.46,0.62,0.74,0.77,0.72,0.62,0.54,0.49,0.46,0.44,0.43,0.42],
  [0.02,-0.02,0.02,0.07,0.09,0.1,0.09,0.06,0.05,0.08,0.13,0.22,0.37,0.55,0.7,0.79,0.8,0.73,0.63,0.56,0.51,0.48,0.46,0.45,0.44],
  [0.02,-0.01,0.03,0.08,0.1,0.11,0.1,0.06,0.05,0.07,0.12,0.2,0.33,0.5,0.67,0.78,0.83,0.78,0.68,0.6,0.54,0.51,0.49,0.48,0.47],
  [0.02,-0.01,0.03,0.08,0.1,0.11,0.1,0.06,0.05,0.07,0.12,0.2,0.33,0.5,0.66,0.77,0.8,0.78,0.7,0.62,0.56,0.52,0.5,0.49,0.48],
  [0.03,0,0.03,0.08,0.1,0.11,0.1,0.07,0.06,0.08,0.13,0.23,0.38,0.56,0.71,0.8,0.82,0.76,0.65,0.57,0.52,0.49,0.47,0.46,0.45],
  [0.02,-0.03,0.01,0.06,0.09,0.1,0.09,0.06,0.05,0.07,0.12,0.2,0.34,0.52,0.68,0.78,0.8,0.74,0.63,0.56,0.51,0.48,0.46,0.45,0.44],
  [0.02,-0.01,0.03,0.08,0.1,0.11,0.1,0.06,0.05,0.07,0.11,0.19,0.32,0.48,0.65,0.78,0.84,0.8,0.7,0.61,0.55,0.52,0.5,0.49,0.48],
  [0.02,-0.02,0.02,0.07,0.09,0.1,0.09,0.06,0.05,0.07,0.12,0.2,0.34,0.51,0.67,0.78,0.81,0.75,0.64,0.56,0.51,0.48,0.46,0.45,0.44],
  [0.03,0,0.03,0.08,0.1,0.11,0.1,0.06,0.04,0.06,0.1,0.18,0.31,0.49,0.66,0.78,0.83,0.77,0.66,0.58,0.53,0.5,0.48,0.47,0.46]
];
const pao1MEM = [
  [0,-0.05,-0.04,0,0.03,0.04,0.05,0.2,0.5,0.7,0.78,0.76,0.7,0.62,0.56,0.52,0.49,0.47,0.46,0.45,0.45,0.45,0.45,0.45,0.45],
  [0,-0.05,-0.04,0,0.02,0.03,0.04,0.14,0.42,0.64,0.72,0.72,0.68,0.61,0.55,0.51,0.48,0.46,0.45,0.44,0.44,0.44,0.44,0.44,0.44],
  [0,-0.05,-0.05,-0.01,0.02,0.02,0.03,0.18,0.5,0.72,0.78,0.7,0.6,0.52,0.47,0.44,0.42,0.41,0.4,0.39,0.39,0.39,0.39,0.39,0.39],
  [0,-0.05,-0.04,0,0.02,0.03,0.04,0.12,0.38,0.6,0.7,0.74,0.76,0.76,0.73,0.67,0.6,0.55,0.52,0.5,0.49,0.48,0.47,0.47,0.47],
  [0,-0.04,-0.03,0.02,0.05,0.06,0.07,0.16,0.45,0.68,0.76,0.78,0.78,0.74,0.67,0.6,0.54,0.5,0.48,0.46,0.45,0.45,0.45,0.45,0.45],
  [0,-0.05,-0.04,0,0.02,0.03,0.04,0.2,0.52,0.73,0.8,0.78,0.72,0.64,0.57,0.52,0.49,0.47,0.46,0.45,0.45,0.45,0.45,0.45,0.45],
  [0,-0.05,-0.04,0,0.02,0.03,0.04,0.16,0.42,0.6,0.67,0.68,0.64,0.57,0.51,0.47,0.45,0.43,0.42,0.42,0.42,0.42,0.42,0.42,0.42],
  [0,-0.05,-0.04,0,0.02,0.03,0.04,0.12,0.38,0.6,0.7,0.72,0.68,0.61,0.55,0.5,0.47,0.45,0.44,0.43,0.43,0.43,0.43,0.43,0.43],
  [0,-0.05,-0.04,0,0.02,0.03,0.04,0.16,0.44,0.66,0.74,0.75,0.72,0.65,0.58,0.53,0.49,0.47,0.45,0.44,0.44,0.44,0.44,0.44,0.44],
  [0,-0.05,-0.05,-0.01,0.02,0.03,0.04,0.14,0.42,0.64,0.72,0.72,0.68,0.61,0.55,0.51,0.48,0.46,0.45,0.44,0.44,0.44,0.44,0.44,0.44],
  [0,-0.05,-0.04,0,0.02,0.03,0.04,0.2,0.55,0.8,0.87,0.8,0.67,0.58,0.53,0.49,0.47,0.45,0.44,0.44,0.44,0.44,0.44,0.44,0.44],
  [0,-0.04,-0.03,0.02,0.05,0.07,0.08,0.2,0.5,0.8,0.95,0.95,0.82,0.68,0.6,0.55,0.52,0.5,0.49,0.48,0.48,0.48,0.48,0.48,0.48],
  [0,-0.04,-0.04,-0.01,0.02,0.02,0.03,0.22,0.6,0.85,0.95,0.85,0.67,0.56,0.5,0.47,0.45,0.43,0.42,0.41,0.41,0.41,0.41,0.41,0.41]
];
const mf120MEM = [
  [0,-0.07,-0.04,0.02,0.05,0.07,0.08,0.07,0.05,0.07,0.11,0.2,0.33,0.5,0.68,0.82,0.86,0.8,0.69,0.6,0.54,0.5,0.47,0.45,0.43],
  [0,-0.07,-0.04,0.02,0.05,0.07,0.08,0.07,0.05,0.07,0.11,0.21,0.35,0.52,0.7,0.84,0.86,0.78,0.67,0.59,0.53,0.49,0.46,0.44,0.42],
  [0,-0.07,-0.04,0.02,0.05,0.07,0.08,0.07,0.05,0.07,0.12,0.22,0.36,0.54,0.72,0.84,0.86,0.79,0.69,0.61,0.56,0.52,0.49,0.47,0.45],
  [0,-0.07,-0.04,0.02,0.05,0.07,0.08,0.07,0.05,0.07,0.1,0.18,0.3,0.45,0.62,0.78,0.87,0.86,0.76,0.64,0.56,0.5,0.46,0.43,0.41],
  [0,-0.07,-0.04,0.02,0.05,0.07,0.08,0.07,0.05,0.07,0.11,0.2,0.34,0.51,0.68,0.81,0.84,0.79,0.68,0.58,0.51,0.46,0.42,0.4,0.38],
  [0,-0.07,-0.04,0.02,0.05,0.07,0.08,0.07,0.05,0.08,0.12,0.22,0.37,0.55,0.72,0.84,0.85,0.77,0.66,0.57,0.51,0.47,0.44,0.42,0.4],
  [0,-0.07,-0.04,0.02,0.05,0.07,0.08,0.07,0.05,0.07,0.11,0.2,0.33,0.5,0.67,0.81,0.86,0.81,0.7,0.61,0.55,0.5,0.47,0.45,0.44],
  [0,-0.07,-0.04,0.02,0.05,0.07,0.08,0.07,0.05,0.07,0.11,0.2,0.34,0.52,0.7,0.83,0.86,0.79,0.68,0.59,0.53,0.49,0.46,0.44,0.43],
  [0,-0.07,-0.04,0.02,0.05,0.07,0.08,0.07,0.05,0.08,0.12,0.22,0.37,0.55,0.73,0.85,0.85,0.77,0.67,0.59,0.54,0.5,0.47,0.45,0.44],
  [0,-0.07,-0.04,0.02,0.05,0.07,0.08,0.07,0.05,0.08,0.13,0.24,0.39,0.56,0.72,0.83,0.83,0.75,0.64,0.56,0.5,0.46,0.43,0.41,0.39],
  [0,-0.07,-0.04,0.02,0.05,0.07,0.08,0.07,0.05,0.07,0.11,0.19,0.32,0.49,0.67,0.82,0.86,0.8,0.69,0.6,0.54,0.5,0.47,0.45,0.44],
  [0,-0.07,-0.04,0.02,0.05,0.07,0.08,0.07,0.05,0.07,0.1,0.18,0.31,0.47,0.64,0.8,0.87,0.85,0.75,0.64,0.56,0.51,0.47,0.44,0.42],
  [0,-0.07,-0.04,0.02,0.05,0.07,0.08,0.07,0.05,0.08,0.13,0.24,0.4,0.6,0.78,0.87,0.82,0.7,0.61,0.55,0.51,0.48,0.45,0.43,0.42]
];

// frame round the plot area + drug name in the corner
const panelFrame = {
  id: 'panelFrame',
  afterDraw(chart, args, opts) {
    const a = chart.chartArea, ctx = chart.ctx;
    ctx.save();
    ctx.strokeStyle = '#a9a9a9';
    ctx.lineWidth = 1;
    ctx.strokeRect(Math.round(a.left) + 0.5, Math.round(a.top) + 0.5, Math.round(a.width) - 1, Math.round(a.height) - 1);
    ctx.font = 'bold 11px "Liberation Serif"';
    ctx.fillStyle = '#111';
    ctx.fillText(opts.text, a.left + 4, a.top + 14);
    ctx.restore();
  }
};

const plotW = 154, plotH = 98, axisW = 29;

function makePanel(drug, series, left, top, yTitle, xTitle) {
  const xH = xTitle ? 32 : 16;
  const cv = document.createElement('canvas');
  cv.width = axisW + plotW + 4;
  cv.height = 6 + plotH + xH;
  cv.style.left = (left - axisW) + 'px';
  cv.style.top = (top - 6) + 'px';
  document.body.appendChild(cv);

  const tickFont = { family: '"Liberation Sans", Arial, sans-serif', size: 8 };
  new Chart(cv, {
    type: 'line',
    data: {
      datasets: series.map((vals, i) => ({
        label: concentrations[i],
        data: hours.map((h, j) => ({ x: h, y: vals[j] })),
        borderColor: lineColors[i],
        borderWidth: 2.2,
        pointRadius: 0,
        cubicInterpolationMode: 'monotone',
        fill: false
      }))
    },
    options: {
      responsive: false,
      animation: false,
      devicePixelRatio: 1,
      layout: { padding: { top: 6, right: 4, left: 0, bottom: 0 } },
      plugins: { legend: { display: false }, tooltip: { enabled: false }, panelFrame: { text: drug } },
      scales: {
        x: {
          type: 'linear', min: 0, max: 72,
          afterBuildTicks: s => { s.ticks = xTicks.map(v => ({ value: v })); },
          afterFit: s => { s.height = xH; },
          ticks: { font: tickFont, color: '#555', padding: 1, maxRotation: 0, autoSkip: false },
          grid: { drawOnChartArea: false, tickLength: 3, color: '#999' },
          border: { color: '#a9a9a9' },
          title: { display: xTitle, text: 'Time (h)', color: '#333', font: { family: '"Liberation Serif"', size: 10 }, padding: { top: 2, bottom: 3 } }
        },
        y: {
          min: -0.1, max: 1.1,
          afterBuildTicks: s => { s.ticks = yTicks.map(v => ({ value: v })); },
          afterFit: s => { s.width = axisW; },
          ticks: { font: tickFont, color: '#555', padding: 2, callback: v => v.toFixed(1).replace('.', ',') },
          grid: { drawOnChartArea: false, tickLength: 4, color: '#999' },
          border: { color: '#a9a9a9' },
          title: { display: yTitle, text: 'Biofilm growth (CI)', color: '#333', font: { family: '"Liberation Serif"', size: 10 }, padding: 0 }
        }
      }
    },
    plugins: [panelFrame]
  });
}

makePanel('CIP', pao1CIP, 29, 23, true, false);
makePanel('CIP', mf120CIP, 222, 23, false, false);
makePanel('TOB', pao1TOB, 29, 140, true, false);
makePanel('TOB', mf120TOB, 222, 140, false, false);
makePanel('CAZ', pao1CAZ, 29, 256, true, false);
makePanel('CAZ', mf120CAZ, 222, 256, false, false);
makePanel('CST', pao1CST, 29, 373, true, true);
makePanel('CST', mf120CST, 222, 373, false, true);
makePanel('TZP', pao1TZP, 411, 23, false, false);
makePanel('TZP', mf120TZP, 594, 24, false, false);
makePanel('IPM', pao1IPM, 411, 141, false, false);
makePanel('IPM', mf120IPM, 594, 141, false, false);
makePanel('MEM', pao1MEM, 411, 258, false, true);
makePanel('MEM', mf120MEM, 594, 258, false, true);

// legend: two rows, item start positions
const legendSpots = [
  [402,419],[464,419],[508,419],[565,419],[608,419],[656,419],[703,419],
  [402,451],[448,451],[501,451],[561,451],[621,451],[685,451]
];
concentrations.forEach((c, i) => {
  const d = document.createElement('div');
  d.className = 'legend-item';
  d.style.left = legendSpots[i][0] + 'px';
  d.style.top = legendSpots[i][1] + 'px';
  d.innerHTML = `<span class="legend-line" style="background:${lineColors[i]}"></span><span>${c}</span>`;
  document.body.appendChild(d);
});
</script>
</body>
</html>
